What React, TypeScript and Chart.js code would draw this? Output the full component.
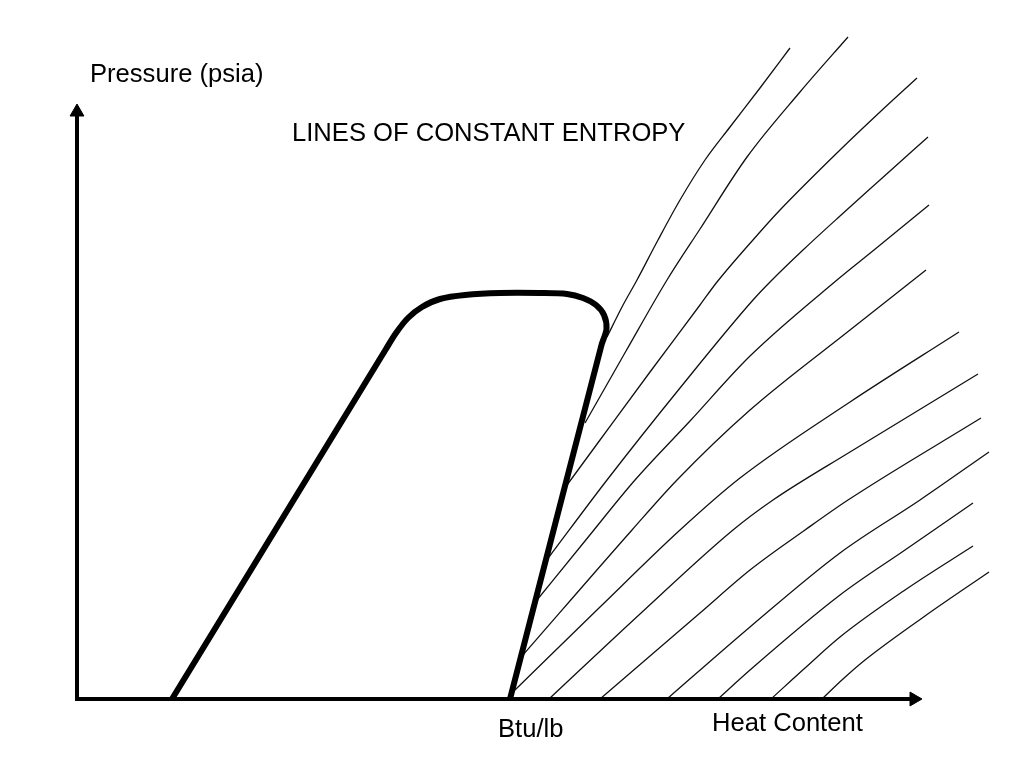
import React, { useEffect, useRef } from "react";
import { Chart, registerables } from "chart.js";

Chart.register(...registerables);

type P = { x: number; y: number };

// Data space: heat content (x) and pressure (y), schematic units
const X_MIN = -77;
const X_MAX = 947;
const Y_MIN = -69;
const Y_MAX = 699;

// Saturation dome
const DOME: P[] = [
  { x: 95, y: 0 },
  { x: 309, y: 350 },
  { x: 319, y: 366 },
  { x: 331, y: 381 },
  { x: 345, y: 392 },
  { x: 363, y: 400 },
  { x: 388, y: 404 },
  { x: 423, y: 406 },
  { x: 463, y: 406 },
  { x: 490, y: 405 },
  { x: 506, y: 401 },
  { x: 519, y: 394 },
  { x: 527, y: 384 },
  { x: 529.5, y: 370 },
  { x: 524.5, y: 354 },
  { x: 433, y: 0 },
];

// Lines of constant entropy
const ENTROPY_A: P[] = [
  { x: 530, y: 362 }, { x: 545, y: 392 }, { x: 560, y: 419 }, { x: 581, y: 459 },
  { x: 603, y: 499 }, { x: 628, y: 539 }, { x: 653, y: 572 }, { x: 683, y: 611 }, { x: 713, y: 651 },
];
const ENTROPY_B: P[] = [
  { x: 508, y: 276 }, { x: 549, y: 348 }, { x: 590, y: 419 }, { x: 623, y: 470 },
  { x: 670, y: 542 }, { x: 723, y: 607 }, { x: 771, y: 662 },
];
const ENTROPY_C: P[] = [
  { x: 490, y: 214 }, { x: 523, y: 259 }, { x: 573, y: 327 }, { x: 623, y: 394 }, { x: 640, y: 417 },
  { x: 683, y: 467 }, { x: 703, y: 489 }, { x: 763, y: 549 }, { x: 803, y: 587 }, { x: 840, y: 621 },
];
const ENTROPY_D: P[] = [
  { x: 472, y: 142 }, { x: 530, y: 219 }, { x: 603, y: 311 }, { x: 676, y: 399 }, { x: 695, y: 419 },
  { x: 726, y: 449 }, { x: 763, y: 483 }, { x: 803, y: 519 }, { x: 851, y: 562 },
];
const ENTROPY_E: P[] = [
  { x: 460, y: 99 }, { x: 508, y: 158 }, { x: 558, y: 219 }, { x: 613, y: 278 }, { x: 673, y: 343 },
  { x: 760, y: 419 }, { x: 797, y: 449 }, { x: 852, y: 494 },
];
const ENTROPY_F: P[] = [
  { x: 446, y: 44 }, { x: 555, y: 169 }, { x: 600, y: 219 }, { x: 673, y: 289 }, { x: 773, y: 369 }, { x: 849, y: 429 },
];
const ENTROPY_G: P[] = [
  { x: 438, y: 9 }, { x: 523, y: 92 }, { x: 603, y: 169 }, { x: 663, y: 221 }, { x: 773, y: 297 }, { x: 882, y: 367 },
];
const ENTROPY_H: P[] = [
  { x: 472, y: 0 }, { x: 563, y: 85 }, { x: 656, y: 169 }, { x: 696, y: 199 }, { x: 773, y: 247 }, { x: 901, y: 325 },
];
const ENTROPY_I: P[] = [
  { x: 523, y: 0 }, { x: 623, y: 86 }, { x: 673, y: 129 }, { x: 728, y: 169 }, { x: 771, y: 199 }, { x: 904, y: 281 },
];
const ENTROPY_J: P[] = [
  { x: 590, y: 0 }, { x: 673, y: 72 }, { x: 763, y: 146 }, { x: 843, y: 199 }, { x: 912, y: 247 },
];
const ENTROPY_K: P[] = [
  { x: 641, y: 0 }, { x: 673, y: 29 }, { x: 763, y: 104 }, { x: 828, y: 149 }, { x: 896, y: 196 },
];
const ENTROPY_L: P[] = [
  { x: 694, y: 0 }, { x: 728, y: 31 }, { x: 763, y: 62 }, { x: 828, y: 109 }, { x: 896, y: 153 },
];
const ENTROPY_M: P[] = [
  { x: 745, y: 0 }, { x: 766, y: 20 }, { x: 788, y: 39 }, { x: 848, y: 83 }, { x: 912, y: 127 },
];

const ENTROPY_LINES = [
  ENTROPY_A, ENTROPY_B, ENTROPY_C, ENTROPY_D, ENTROPY_E, ENTROPY_F, ENTROPY_G,
  ENTROPY_H, ENTROPY_I, ENTROPY_J, ENTROPY_K, ENTROPY_L, ENTROPY_M,
];

// Axes with arrows
const Y_AXIS: P[] = [{ x: 0, y: -2 }, { x: 0, y: 587 }];
const X_AXIS: P[] = [{ x: -2, y: 0 }, { x: 837, y: 0 }];

// Text labels (anchor = left end of baseline)
const LABEL_TEXTS = ["Pressure (psia)", "LINES OF CONSTANT ENTROPY", "Heat Content", "Btu/lb"];
const LABEL_X = [13, 215, 635, 421];
const LABEL_Y = [617, 558, -32, -38];

const labelPlugin = {
  id: "diagramLabels",
  afterDatasetsDraw(chart: any) {
    const { ctx, scales } = chart;
    const xs = scales.x;
    const ys = scales.y;
    ctx.save();
    ctx.fillStyle = "#000";
    ctx.font = '25.6px "Liberation Sans", Arial, Helvetica, sans-serif';
    ctx.textAlign = "left";
    ctx.textBaseline = "alphabetic";
    LABEL_TEXTS.forEach((t, i) => {
      ctx.fillText(t, xs.getPixelForValue(LABEL_X[i]), ys.getPixelForValue(LABEL_Y[i]));
    });
    ctx.restore();
  },
};

export default function App() {
  const ref = useRef<HTMLCanvasElement | null>(null);

  useEffect(() => {
    if (!ref.current) return;
    const datasets: any[] = [
      {
        data: X_AXIS,
        borderColor: "#000",
        borderWidth: 4,
        pointRadius: [0, 8],
        pointStyle: "triangle",
        pointRotation: 90,
        pointBackgroundColor: "#000",
        pointBorderColor: "#000",
        pointBorderWidth: 1,
        tension: 0,
        clip: false,
      },
      {
        data: Y_AXIS,
        borderColor: "#000",
        borderWidth: 4,
        pointRadius: [0, 8],
        pointStyle: "triangle",
        pointRotation: 0,
        pointBackgroundColor: "#000",
        pointBorderColor: "#000",
        pointBorderWidth: 1,
        tension: 0,
        clip: false,
      },
      {
        data: DOME,
        borderColor: "#000",
        borderWidth: 6,
        borderJoinStyle: "round",
        pointRadius: 0,
        tension: 0.3,
        clip: false,
      },
      ...ENTROPY_LINES.map((pts) => ({
        data: pts,
        borderColor: "#111",
        borderWidth: 1.3,
        pointRadius: 0,
        cubicInterpolationMode: "monotone",
        clip: false,
      })),
    ];

    const chart = new Chart(ref.current, {
      type: "line",
      data: { datasets },
      options: {
        animation: false,
        responsive: false,
        events: [],
        layout: { padding: 0, autoPadding: false },
        plugins: {
          legend: { display: false },
          tooltip: { enabled: false },
          title: { display: false },
        },
        scales: {
          x: { type: "linear", min: X_MIN, max: X_MAX, display: false },
          y: { type: "linear", min: Y_MIN, max: Y_MAX, display: false },
        },
      },
      plugins: [labelPlugin],
    });
    return () => chart.destroy();
  }, []);

  return (
    <div style={{ position: "fixed", left: 0, top: 0, width: 1024, height: 768, background: "#fff" }}>
      <canvas ref={ref} width={1024} height={768} style={{ display: "block" }} />
    </div>
  );
}
